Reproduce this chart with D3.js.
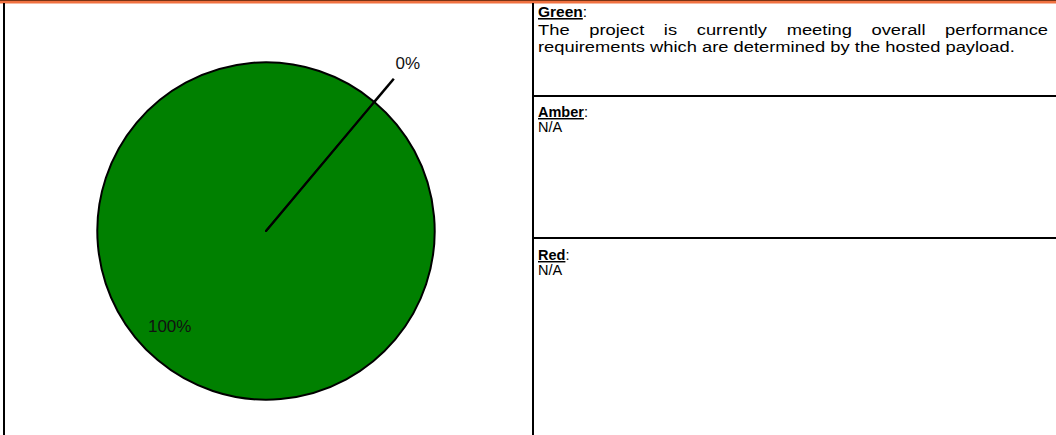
<!DOCTYPE html>
<html><head><meta charset="utf-8">
<script src="https://cdn.jsdelivr.net/npm/d3@7"></script>
<style>html,body{margin:0;padding:0;background:#fff;overflow:hidden}</style>
</head><body>
<svg id="c" width="1056" height="435"></svg>
<script>
const categories = ["Green", "Amber", "Red"];
const values = [100, 0, 0];
const labels = ["100%", "0%", "0%"];
const colors = ["#008000", "#FFC000", "#FF0000"];
const notes = [
  {title: "Green", lines: ["The project is currently meeting overall performance", "requirements which are determined by the hosted payload."]},
  {title: "Amber", lines: ["N/A"]},
  {title: "Red", lines: ["N/A"]}
];

const svg = d3.select("#c");
const W = 1056, H = 435;
const FONT = "Liberation Sans, Arial, sans-serif";
// frame
svg.append("rect").attr("x",0).attr("y",0).attr("width",W).attr("height",1).attr("fill","#7a3314");
svg.append("rect").attr("x",0).attr("y",1).attr("width",W).attr("height",2.5).attr("fill","#f07140");
svg.append("rect").attr("x",3).attr("y",3).attr("width",2).attr("height",H).attr("fill","#000");
svg.append("rect").attr("x",532).attr("y",3).attr("width",2).attr("height",H).attr("fill","#000");
const titleY = [17, 117, 260];
[96, 238].forEach(y => svg.append("rect").attr("x",533).attr("y",y-1).attr("width",W-533).attr("height",2).attr("fill","#000"));

// pie
const cx = 266, cy = 231, R = 168.5;
const pie = d3.pie().sort(null).startAngle(40*Math.PI/180).endAngle((40+360)*Math.PI/180);
const arcs = pie(values);
const arc = d3.arc().innerRadius(0).outerRadius(R);
const g = svg.append("g").attr("transform", `translate(${cx},${cy})`);
g.selectAll("path.s").data(arcs).join("path").attr("class","s")
  .attr("d", arc).attr("fill", (d,i)=>colors[i]).attr("stroke","#000").attr("stroke-width",2).attr("stroke-linejoin","round");

const seen = new Set();
arcs.forEach((d,i) => {
  const mid = (d.startAngle + d.endAngle)/2;
  const key = mid.toFixed(4);
  if (seen.has(key)) return;
  seen.add(key);
  const sx = Math.sin(mid), sy = -Math.cos(mid);
  if (d.endAngle - d.startAngle < 0.01) {
    g.append("line").attr("x1", sx*R).attr("y1", sy*R).attr("x2", sx*R*1.18).attr("y2", sy*R*1.18)
      .attr("stroke","#000").attr("stroke-width",2.5);
    g.append("text").attr("x", sx*R*1.3 + 1).attr("y", sy*R*1.3 + 6)
      .attr("text-anchor","middle").attr("font-family",FONT).attr("font-size",17)
      .attr("fill","#111").text(labels[i]);
  } else {
    g.append("text").attr("x", sx*R*0.76 - 14).attr("y", sy*R*0.76 + 3)
      .attr("text-anchor","middle").attr("font-family",FONT).attr("font-size",17)
      .attr("fill","#111").text(labels[i]);
  }
});

// notes panel
const fx = 538, lh = 16.5, rightEdge = 1048, lastLineWidth = 477;
notes.forEach((n, k) => {
  const ty = titleY[k];
  const multi = n.lines.length > 1;
  const t = svg.append("text").attr("x", fx).attr("y", ty)
    .attr("font-family",FONT).attr("font-size", multi ? 15.5 : 14.5).attr("fill","#000");
  t.append("tspan").attr("font-weight","bold").attr("text-decoration","underline").text(n.title);
  t.append("tspan").text(":");
  if (!multi) {
    svg.append("text").attr("x", fx).attr("y", ty - 1 + 16).attr("font-family",FONT)
      .attr("font-size", 14.5).attr("fill","#000").text(n.lines[0]);
    return;
  }
  const body = svg.append("g");
  const fs = 15.5;
  const last = body.append("text").attr("font-family",FONT).attr("font-size",fs).attr("fill","#000")
    .attr("x",0).attr("y", ty + 2 + lh*n.lines.length).text(n.lines[n.lines.length-1]);
  const sxScale = lastLineWidth / last.node().getComputedTextLength();
  body.attr("transform", `translate(${fx},0) scale(${sxScale},1)`);
  n.lines.slice(0, -1).forEach((ln, j) => {
    const y = ty + 2 + lh*(j+1);
    const words = ln.split(" ");
    const ws = words.map(w => {
      const tt = body.append("text").attr("font-family",FONT).attr("font-size", fs).attr("fill","#000").text(w);
      return {tt, wd: tt.node().getComputedTextLength()};
    });
    const total = d3.sum(ws, d=>d.wd);
    const gap = ((rightEdge - fx)/sxScale - total) / (words.length - 1);
    let x = 0;
    ws.forEach(o => { o.tt.attr("x", x).attr("y", y); x += o.wd + gap; });
  });
});
</script>
</body></html>
